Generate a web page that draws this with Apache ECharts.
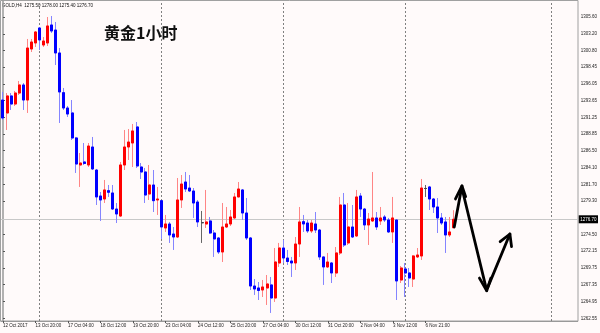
<!DOCTYPE html>
<html><head><meta charset="utf-8">
<script src="https://cdn.jsdelivr.net/npm/echarts@6/dist/echarts.min.js"></script>
<style>html,body{margin:0;padding:0;background:#fffafa}#c{width:600px;height:333px}</style>
</head><body><div id="c"></div>
<script>
const opens = [1293.74,1291.89,1294.32,1293.17,1294.74,1295.89,1293.74,1301.03,1301.89,1304.03,1301.60,1301.89,1304.46,1303.74,1300.46,1294.79,1292.60,1291.89,1288.32,1284.46,1284.89,1284.46,1287.03,1283.74,1280.03,1279.60,1280.79,1280.46,1278.17,1277.17,1284.46,1287.03,1287.60,1289.89,1284.17,1283.46,1280.32,1281.60,1279.46,1279.36,1275.46,1276.03,1274.60,1274.17,1279.46,1282.03,1281.17,1280.74,1279.17,1276.22,1276.03,1276.46,1274.74,1274.03,1272.03,1275.60,1276.03,1276.89,1279.89,1280.89,1277.60,1274.03,1267.17,1266.89,1266.60,1266.89,1267.32,1265.46,1270.46,1272.60,1271.17,1270.74,1270.46,1273.17,1276.36,1276.17,1275.03,1276.03,1275.17,1271.32,1269.89,1270.46,1269.03,1271.89,1278.74,1273.32,1275.60,1274.32,1280.03,1278.17,1275.89,1276.46,1276.89,1276.46,1277.03,1276.60,1274.89,1276.60,1268.03,1269.60,1269.03,1268.17,1271.32,1271.46,1281.10,1281.32,1279.60,1278.46,1276.89,1276.32,1274.46,1275.50];
const closes = [1291.17,1294.32,1293.17,1294.74,1295.89,1293.74,1301.17,1302.03,1303.46,1302.32,1302.17,1304.32,1303.60,1300.46,1294.89,1292.60,1291.74,1288.32,1284.60,1284.74,1284.67,1287.17,1283.89,1279.89,1279.46,1280.89,1280.56,1278.17,1277.46,1284.46,1287.03,1287.74,1289.32,1284.32,1283.46,1280.17,1281.60,1279.36,1279.60,1275.60,1276.03,1274.46,1274.17,1279.46,1281.74,1281.03,1280.74,1279.03,1276.32,1276.22,1276.32,1274.74,1273.89,1272.03,1275.60,1276.03,1277.03,1279.89,1281.03,1277.60,1274.03,1267.17,1266.74,1266.53,1267.03,1267.46,1265.46,1270.60,1272.60,1271.17,1270.67,1270.46,1273.17,1276.32,1276.03,1275.03,1276.17,1275.17,1271.32,1269.89,1270.60,1269.03,1271.89,1278.74,1273.03,1275.60,1274.17,1279.89,1278.17,1275.89,1276.74,1276.89,1275.60,1276.89,1276.60,1274.89,1276.89,1267.89,1269.74,1269.03,1268.32,1271.46,1271.60,1281.17,1281.10,1279.60,1278.46,1276.89,1276.17,1274.46,1274.89,1276.70];
const lows = [1290.89,1289.46,1292.32,1292.89,1294.46,1292.32,1291.89,1300.60,1301.32,1300.89,1301.32,1301.46,1303.32,1298.74,1290.46,1292.32,1291.32,1288.03,1283.32,1281.32,1284.46,1284.17,1283.74,1278.74,1276.46,1279.03,1279.89,1278.03,1276.17,1277.03,1283.74,1285.17,1284.17,1284.03,1282.46,1279.03,1279.46,1277.74,1277.32,1273.89,1274.89,1273.32,1272.32,1274.03,1278.32,1280.60,1280.60,1276.89,1275.60,1273.32,1275.46,1274.60,1271.32,1271.74,1270.60,1275.46,1275.74,1276.74,1279.89,1276.60,1273.74,1266.60,1265.89,1265.17,1265.60,1264.46,1263.32,1264.89,1269.89,1270.46,1270.17,1268.46,1269.46,1271.32,1274.89,1274.74,1274.74,1274.74,1270.89,1267.32,1269.74,1267.60,1268.46,1271.60,1272.74,1273.03,1274.03,1274.17,1277.03,1275.17,1273.03,1276.32,1275.17,1275.89,1276.32,1274.74,1273.32,1265.17,1267.60,1265.60,1267.03,1267.03,1271.17,1270.89,1279.89,1278.03,1277.60,1274.74,1275.89,1271.89,1274.17,1275.40];
const highs = [1294.89,1294.74,1294.74,1295.03,1296.46,1296.17,1302.46,1302.46,1303.60,1304.17,1302.74,1305.60,1305.74,1304.89,1301.17,1295.46,1292.89,1293.74,1288.46,1286.17,1287.60,1287.60,1288.46,1283.89,1280.60,1282.32,1281.60,1281.60,1279.03,1284.89,1289.46,1289.60,1290.32,1290.60,1284.74,1284.03,1284.46,1283.74,1281.32,1279.46,1277.32,1276.32,1275.60,1282.60,1283.03,1283.46,1283.03,1281.17,1279.46,1277.89,1280.89,1277.03,1275.17,1274.17,1279.03,1278.46,1278.03,1280.46,1282.03,1281.03,1279.74,1274.17,1268.17,1267.74,1268.03,1268.74,1268.46,1272.60,1273.32,1273.74,1272.32,1271.32,1274.17,1278.46,1277.32,1276.60,1276.60,1277.74,1275.32,1271.32,1271.89,1270.60,1272.74,1279.89,1280.46,1279.03,1278.74,1280.89,1280.46,1278.32,1277.60,1283.46,1277.74,1278.46,1277.32,1276.89,1279.89,1276.60,1270.03,1270.46,1269.74,1271.60,1272.60,1282.46,1281.60,1281.46,1279.74,1279.74,1277.60,1277.03,1277.03,1278.00];

const slotCount = 142;
const categories = Array.from({length: slotCount}, (_, i) => String(i));
const xTickIdx = [0, 8, 16, 24, 32, 40, 48, 56, 64, 72, 80, 88, 96, 104];
const xTickText = ['12 Oct 2017','13 Oct 20:00','17 Oct 04:00','18 Oct 12:00','19 Oct 20:00','23 Oct 04:00','24 Oct 12:00','25 Oct 20:00','27 Oct 04:00','30 Oct 12:00','31 Oct 20:00','2 Nov 04:00','3 Nov 12:00','6 Nov 21:00'];
const yTicks = [1305.60,1303.20,1300.80,1298.45,1296.05,1293.65,1291.25,1288.85,1286.50,1284.10,1281.70,1279.30,1274.50,1272.15,1269.75,1267.35,1264.95,1262.55];
const lastPrice = 1276.70;
const separatorIdx = [9, 39, 69, 99, 135];
const titleText = '黄金1小时';
const infoText = 'GOLD,H4  1275.50 1278.00 1275.40 1276.70';
// hand-drawn arrows, in (slot index, price) units
const arrowLines = [
  [[111.1,1275.60],[113.0,1281.46]],
  [[111.4,1279.60],[113.0,1281.46],[113.9,1279.93]],
  [[113.1,1280.89],[119.1,1266.50]],
  [[117.3,1268.30],[119.1,1266.50],[120.1,1268.30]],
  [[119.3,1266.90],[124.8,1274.60]],
  [[122.4,1273.50],[124.8,1274.60],[125.2,1272.80]]
];

const wickData = opens.map((o, i) => [o, closes[i], lows[i], highs[i]]);
const bodyData = opens.map((o, i) => [o, closes[i], Math.min(o, closes[i]), Math.max(o, closes[i])]);

const chart = echarts.init(document.getElementById('c'), null, {renderer: 'canvas'});
const smallFont = 'Liberation Sans';
const option = {
  backgroundColor: '#fffafa',
  animation: false,
  title: {
    text: titleText, left: 104, top: 25, padding: 0,
    textStyle: {fontFamily: 'Noto Sans CJK SC', fontSize: 16, fontWeight: 'bold', color: '#111'}
  },
  graphic: [
    {type: 'text', left: 2, top: 3, silent: true,
     style: {text: infoText, fontSize: 4.5, fill: '#111', fontFamily: smallFont}},
    {type: 'rect', silent: true, z: 0,
     shape: {x: 0.5, y: 0.5, width: 577.5, height: 320.5},
     style: {fill: 'none', stroke: '#a0a0a0', lineWidth: 1}}
  ],
  grid: {left: -1.4, right: 22, top: 1, bottom: 12},
  xAxis: [{
    type: 'category', data: categories, boundaryGap: true,
    axisLine: {lineStyle: {color: '#999', width: 1}},
    axisTick: {show: true, alignWithLabel: true, length: 2,
      interval: (i) => xTickIdx.includes(i), lineStyle: {color: '#555'}},
    axisLabel: {
      interval: (i) => xTickIdx.includes(i),
      formatter: (v, i) => { const k = xTickIdx.indexOf(Number(v)); return k >= 0 ? xTickText[k] : ''; },
      align: 'left', fontSize: 4.5, margin: 2, color: '#222', fontFamily: smallFont
    },
    splitLine: {show: false}
  }, {
    type: 'value', min: -0.5, max: slotCount - 0.5, show: false
  }],
  yAxis: {
    type: 'value', position: 'right', min: 1262.17, max: 1307.886, scale: true,
    axisLine: {show: true, lineStyle: {color: '#999', width: 1.5}},
    axisTick: {show: true, customValues: yTicks, length: 2, lineStyle: {color: '#555'}},
    axisLabel: {customValues: yTicks, formatter: (v) => Number(v).toFixed(2), fontSize: 4.5,
      margin: 3, color: '#222', fontFamily: smallFont},
    splitLine: {show: false}
  },
  series: [
    {
      type: 'candlestick', data: wickData, barWidth: 2.5, z: 3,
      itemStyle: {color: '#ff8585', color0: '#8585ff', borderColor: '#ff8585', borderColor0: '#8585ff',
        borderColorDoji: '#666', borderWidth: 1},
      markLine: {
        silent: true, symbol: 'none', z: 1, animation: false,
        data: [
          ...separatorIdx.map(i => ({xAxis: String(i), lineStyle: {color: '#808080', type: [2, 2], width: 1}, label: {show: false}})),
          {yAxis: lastPrice, lineStyle: {color: '#c8c8c8', type: 'solid', width: 1},
           label: {show: true, position: 'end', distance: 1, formatter: lastPrice.toFixed(2),
             backgroundColor: '#000', color: '#fff', fontSize: 4.5, padding: [1.5, 1.5], fontFamily: smallFont}}
        ]
      }
    },
    {
      type: 'candlestick', data: bodyData, barWidth: 2.5, z: 4,
      itemStyle: {color: '#ff0000', color0: '#0000ff', borderColor: '#ff0000', borderColor0: '#0000ff',
        borderColorDoji: '#444', borderWidth: 1}
    },
    ...arrowLines.map(pts => ({
      type: 'line', xAxisIndex: 1, data: pts, symbol: 'none', clip: false, z: 10, silent: true,
      lineStyle: {color: '#000', width: 2.8, cap: 'round', join: 'round'}
    }))
  ]
};
chart.setOption(option);
</script>
</body></html>
